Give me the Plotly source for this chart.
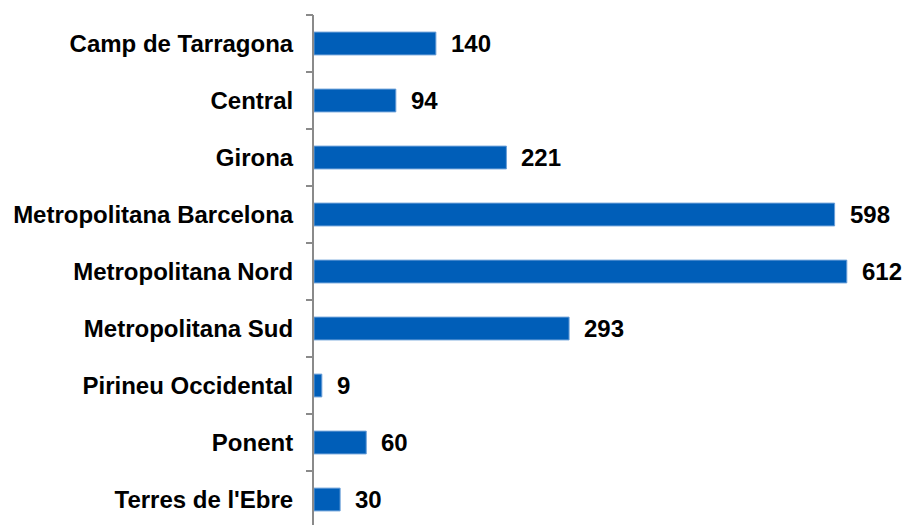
import plotly.graph_objects as go

categories = ["Camp de Tarragona", "Central", "Girona", "Metropolitana Barcelona",
              "Metropolitana Nord", "Metropolitana Sud", "Pirineu Occidental",
              "Ponent", "Terres de l'Ebre"]
values = [140, 94, 221, 598, 612, 293, 9, 60, 30]

pos = list(range(len(categories)))
boundaries = [p - 0.5 for p in pos] + [pos[-1] + 0.5]

FONT = "Liberation Sans, Arial, sans-serif"
BLUE = "#005EB8"
GREY = "#8a8a8a"

fig = go.Figure()
fig.add_trace(go.Bar(
    x=values, y=pos, orientation="h", width=0.4,
    marker=dict(color=BLUE, line=dict(color="#6a9fd8", width=1)),
    hoverinfo="skip",
))
# boundary ticks axis
fig.add_trace(go.Scatter(x=[None], y=[None], yaxis="y2", showlegend=False))

for v, p in zip(values, pos):
    fig.add_annotation(x=v, y=p, text=str(v), showarrow=False, xanchor="left",
                       xshift=13, font=dict(family=FONT, size=24, color="#000000",
                                            weight="bold"))

yr = [8.447, -0.5]
fig.update_layout(
    width=908, height=525,
    margin=dict(l=314, r=2, t=15, b=0, autoexpand=False),
    plot_bgcolor="white", paper_bgcolor="white",
    showlegend=False,
    xaxis=dict(range=[0, 680], visible=False, fixedrange=True, automargin=False),
    yaxis=dict(range=yr, tickvals=pos, ticktext=categories, ticks="", showline=True,
               linecolor=GREY, linewidth=2, showgrid=False, zeroline=False,
               ticklabelstandoff=14, automargin=False, fixedrange=True,
               tickfont=dict(family=FONT, size=24, color="#000000", weight="bold")),
    yaxis2=dict(range=yr, overlaying="y", side="left", tickvals=boundaries,
                showticklabels=False, ticks="outside", ticklen=7, tickwidth=2,
                tickcolor=GREY, showgrid=False, zeroline=False, showline=False,
                automargin=False, fixedrange=True),
)
fig.write_html("out.html", config={"displayModeBar": False},
               post_script="document.body.style.margin='0';document.body.style.overflow='hidden';")
